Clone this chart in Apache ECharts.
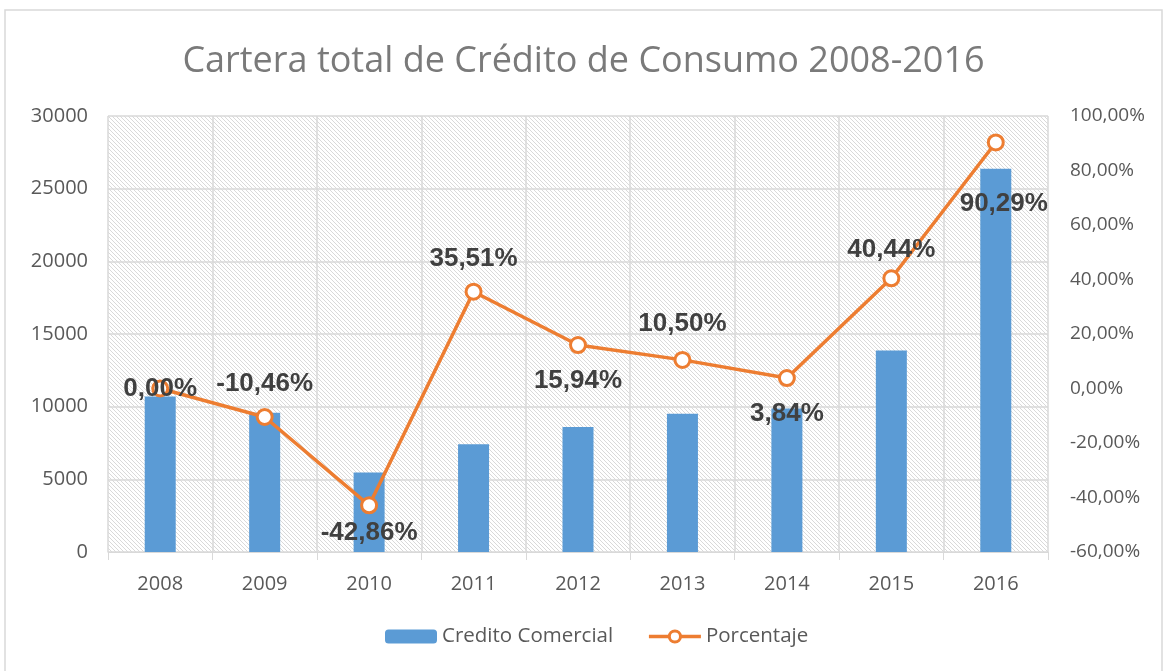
<!DOCTYPE html>
<html>
<head>
<meta charset="utf-8">
<script src="https://cdn.jsdelivr.net/npm/echarts@6/dist/echarts.min.js"></script>
<style>
html, body { margin: 0; padding: 0; background: #fff; }
#chart { width: 1167px; height: 671px; }
</style>
</head>
<body>
<div id="chart"></div>
<script>
// data
var years = ['2008', '2009', '2010', '2011', '2012', '2013', '2014', '2015', '2016'];
var credito = [10700, 9580, 5475, 7420, 8600, 9505, 9870, 13860, 26370];
var porcentaje = [0.00, -10.46, -42.86, 35.51, 15.94, 10.50, 3.84, 40.44, 90.29];

// where each % label sits relative to its point
var labelPlace = [
  { position: 'inside' },
  { position: 'top', distance: 11 },
  { position: 'bottom', distance: 6 },
  { position: 'top', distance: 11 },
  { position: 'bottom', distance: 14 },
  { position: 'top', distance: 14 },
  { position: 'bottom', distance: 14 },
  { position: 'top', distance: 6 },
  { position: 'bottom', distance: 39, offset: [8, 0] }
];

function pct(v) {
  return v.toFixed(2).replace('.', ',') + '%';
}

// diagonal hatch for the plot background
function hatch() {
  var c = document.createElement('canvas');
  c.width = 4; c.height = 4;
  var ctx = c.getContext('2d');
  ctx.fillStyle = '#ffffff';
  ctx.fillRect(0, 0, 4, 4);
  ctx.fillStyle = '#d9d9d9';
  for (var i = 0; i < 4; i++) ctx.fillRect(i, i, 1, 1);
  return c;
}

var font = 'Open Sans';
var chart = echarts.init(document.getElementById('chart'));
chart.setOption({
  animation: false,
  backgroundColor: '#ffffff',
  title: {
    text: 'Cartera total de Crédito de Consumo 2008-2016',
    left: 'center',
    top: 39,
    textStyle: { fontFamily: font, fontWeight: 'normal', fontSize: 36, color: '#7a7a7a' }
  },
  graphic: [{
    type: 'rect',
    shape: { x: 5, y: 10, width: 1157, height: 670 },
    style: { fill: 'none', stroke: '#d9d9d9', lineWidth: 1.5 },
    silent: true
  }],
  legend: {
    bottom: 19,
    left: 380,
    itemWidth: 52,
    itemHeight: 14,
    itemGap: 34,
    textStyle: { fontFamily: font, fontSize: 20.5, color: '#595959' },
    data: [
      { name: 'Credito Comercial' },
      { name: 'Porcentaje', itemStyle: { borderWidth: 3 }, lineStyle: { width: 3.5 } }
    ]
  },
  grid: {
    left: 108, right: 119, top: 116, bottom: 119,
    show: true,
    borderWidth: 0,
    backgroundColor: { image: hatch(), repeat: 'repeat' }
  },
  xAxis: {
    type: 'category',
    data: years,
    axisLine: { lineStyle: { color: '#d9d9d9', width: 1 } },
    axisTick: { show: true, length: 8, lineStyle: { color: '#d9d9d9' } },
    axisLabel: { fontFamily: font, fontSize: 20, color: '#595959', margin: 22 },
    splitLine: { show: true, lineStyle: { color: '#d9d9d9', width: 1.5 } }
  },
  yAxis: [{
    type: 'value',
    min: 0, max: 30000, interval: 5000,
    axisLine: { show: false },
    axisTick: { show: false },
    axisLabel: { fontFamily: font, fontSize: 20, color: '#595959', margin: 20, formatter: function (v) { return String(v); } },
    splitLine: { lineStyle: { color: '#d9d9d9', width: 1.5 } }
  }, {
    type: 'value',
    min: -60, max: 100, interval: 20,
    axisLine: { show: false },
    axisTick: { show: false },
    axisLabel: { fontFamily: font, fontSize: 19, color: '#595959', margin: 22, formatter: function (v) { return pct(v); } },
    splitLine: { show: false }
  }],
  series: [{
    name: 'Credito Comercial',
    type: 'bar',
    data: credito,
    barWidth: 31,
    itemStyle: { color: '#5b9bd5' }
  }, {
    name: 'Porcentaje',
    type: 'line',
    yAxisIndex: 1,
    data: porcentaje.map(function (v, i) {
      return { value: v, label: labelPlace[i] };
    }),
    symbol: 'circle',
    symbolSize: 15,
    lineStyle: { color: '#ed7d31', width: 3.5 },
    itemStyle: { color: '#ffffff', borderColor: '#ed7d31', borderWidth: 3 },
    label: {
      show: true,
      fontFamily: 'Liberation Sans',
      fontWeight: 'bold',
      fontSize: 26,
      color: '#404040',
      formatter: function (p) { return pct(p.value); }
    },
    z: 5
  }]
});
</script>
</body>
</html>
